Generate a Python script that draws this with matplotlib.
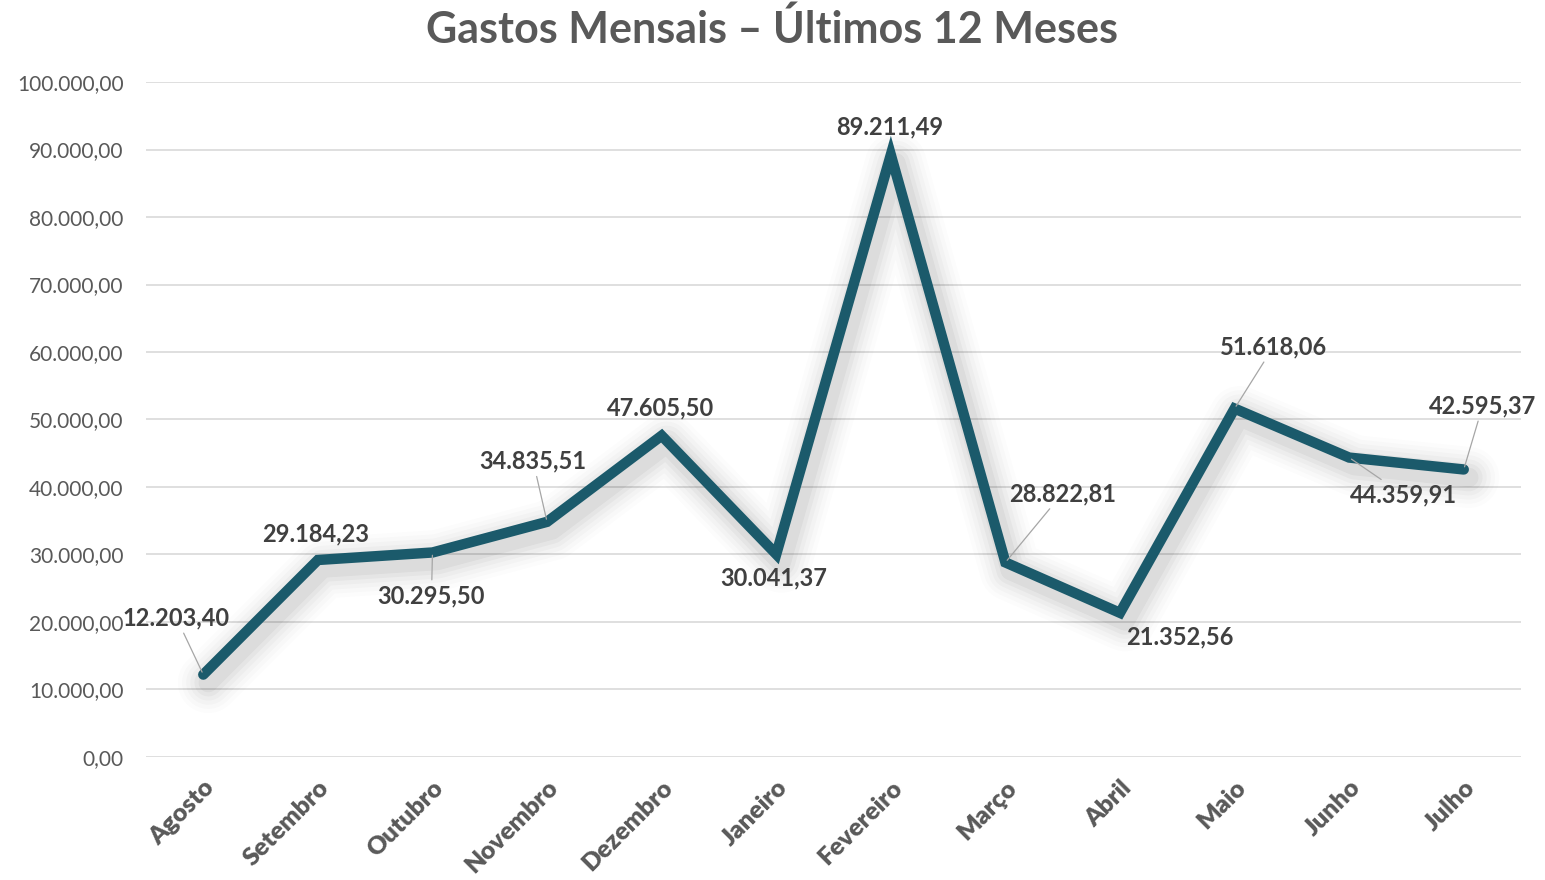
import matplotlib
matplotlib.use('Agg')
import matplotlib.pyplot as plt
import matplotlib.transforms as mtransforms
from matplotlib.ticker import FuncFormatter

plt.rcParams['font.family'] = ['Lato', 'DejaVu Sans']

meses = ['Agosto', 'Setembro', 'Outubro', 'Novembro', 'Dezembro', 'Janeiro',
         'Fevereiro', 'Março', 'Abril', 'Maio', 'Junho', 'Julho']
gastos = [12203.40, 29184.23, 30295.50, 34835.51, 47605.50, 30041.37,
          89211.49, 28822.81, 21352.56, 51618.06, 44359.91, 42595.37]
# posição dos rótulos (deslocamento em pixels) e se tem linha guia
rot_dx = [-27, -2, -1, -14, -1, -3, -1, 57, 60, 39, 54, 19]
rot_dy = [57, 26, -43, 61, 28, -24, 28, 69, -24, 62, -37, 64]
guia = [True, False, True, True, False, False, False, True, False, True, True, True]

def br(v, pos=None):
    s = f'{v:,.2f}'
    return s.replace(',', 'X').replace('.', ',').replace('X', '.')

fig = plt.figure(figsize=(15.45, 8.8), dpi=100)
ax = fig.add_axes([0.0945, 0.1398, 0.890, 0.767])

x = list(range(len(meses)))
cor = '#1b5a6b'

# sombra suave (várias camadas)
for lw, a in [(44, 0.012), (38, 0.015), (32, 0.02), (26, 0.025), (20, 0.03), (14, 0.04)]:
    tr = mtransforms.offset_copy(ax.transData, fig=fig, x=5, y=-8, units='dots')
    ax.plot(x, gastos, color='black', lw=lw, alpha=a, transform=tr,
            solid_joinstyle='round', solid_capstyle='round', zorder=2)

ax.plot(x, gastos, color=cor, lw=7.5, solid_joinstyle='miter',
        solid_capstyle='round', zorder=3, clip_on=False)

for i, v in enumerate(gastos):
    ap = None
    if guia[i]:
        ap = dict(arrowstyle='-', color='#a6a6a6', lw=0.9, shrinkA=1, shrinkB=2)
    ax.annotate(br(v), (i, v), xytext=(rot_dx[i], rot_dy[i]),
                textcoords='offset pixels', ha='center', va='center',
                fontsize=17, fontweight='bold', color='#404040',
                arrowprops=ap, zorder=5, annotation_clip=False)

ax.set_xlim(-0.5, len(meses) - 0.5)
ax.set_ylim(0, 100000)
ax.set_yticks(range(0, 100001, 10000))
ax.yaxis.set_major_formatter(FuncFormatter(br))
ax.set_xticks(x)
ax.set_xticklabels(meses, rotation=45, ha='right', rotation_mode='anchor',
                   fontsize=18, fontweight='heavy', color='#595959')
ax.tick_params(axis='y', labelsize=15, colors='#595959', length=0, pad=16)
ax.tick_params(axis='x', length=0, pad=14)
ax.grid(axis='y', color='#d9d9d9', lw=1.2)
ax.set_axisbelow(True)
for s in ax.spines.values():
    s.set_visible(False)

fig.suptitle('Gastos Mensais – Últimos 12 Meses', y=0.99, fontsize=31,
             fontweight='bold', color='#595959')

fig.savefig('out.png', dpi=100, facecolor='white')
